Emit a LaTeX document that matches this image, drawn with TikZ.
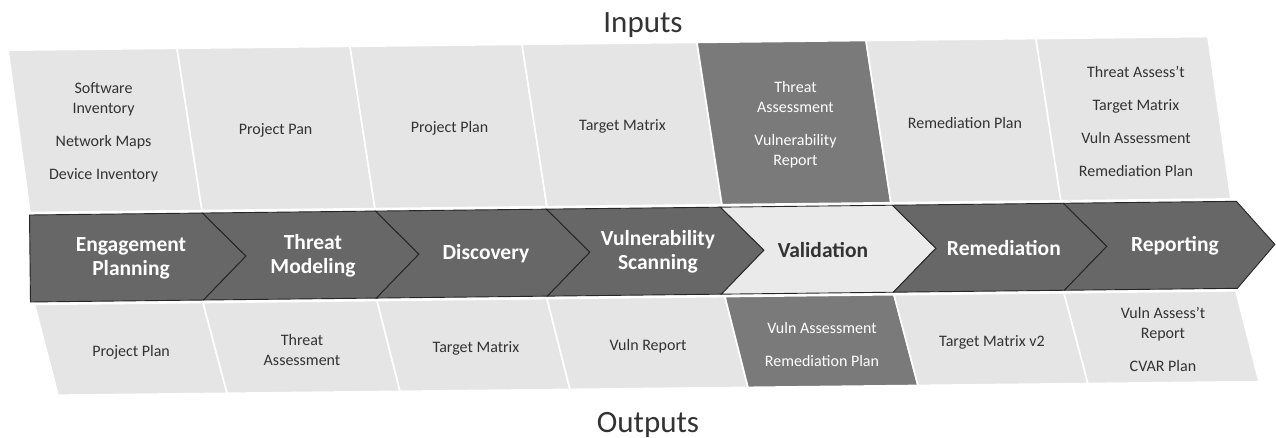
\documentclass[tikz,border=0pt]{standalone}
\usepackage{fontspec}
\setmainfont{Carlito}
\definecolor{cellfill}{HTML}{E5E5E5}
\definecolor{darkfill}{HTML}{7A7A7A}
\definecolor{chevfill}{HTML}{676767}
\definecolor{chevlight}{HTML}{EAEAEA}
\definecolor{inktext}{HTML}{333333}
\definecolor{chevline}{HTML}{262626}
\tikzset{
  cellbox/.style={fill=cellfill, draw=white, line width=1.6pt, line join=miter},
  darkbox/.style={cellbox, fill=darkfill},
  chevbox/.style={fill=chevfill, draw=chevline, line width=0.9pt, line join=miter},
  chevlightbox/.style={chevbox, fill=chevlight},
  celltxt/.style={align=center, inner sep=0pt, text=inktext, font=\fontsize{16}{20}\selectfont},
  darktxt/.style={celltxt, text=white},
  chevtxt/.style={align=center, inner sep=0pt, text=white, font=\bfseries\fontsize{21.5}{24}\selectfont},
  chevdarktxt/.style={chevtxt, text=inktext},
  titletxt/.style={inner sep=0pt, text=inktext, anchor=base, font=\fontsize{31}{36}\selectfont},
}
\begin{document}
\begin{tikzpicture}[x=1pt,y=-1pt]
\useasboundingbox (0,0) rectangle (1276,438);
\fill[white] (0,0) rectangle (1276,438);

\begin{scope}[rotate around={0.65:(30,259)}]
% ---- input cells (top band)
\path[cellbox] (10.4,50) -- (179.4,50) -- (202.5,212.5) -- (30.5,212.5) -- cycle;
\path[cellbox] (179.4,50) -- (352.4,50) -- (375.5,212.5) -- (202.5,212.5) -- cycle;
\path[cellbox] (352.4,50) -- (524.4,50) -- (547.5,212.5) -- (375.5,212.5) -- cycle;
\path[cellbox] (524.4,50) -- (699.4,50) -- (722.5,212.5) -- (547.5,212.5) -- cycle;
\path[darkbox] (699.4,50) -- (868.4,50) -- (891.5,212.5) -- (722.5,212.5) -- cycle;
\path[cellbox] (868.4,50) -- (1038.4,50) -- (1061.5,212.5) -- (891.5,212.5) -- cycle;
\path[cellbox] (1038.4,50) -- (1210.4,50) -- (1231.5,212.5) -- (1061.5,212.5) -- cycle;

% ---- output cells (bottom band)
\path[cellbox] (34,304.5) -- (202.5,304.5) -- (225.5,395.5) -- (56.5,395.5) -- cycle;
\path[cellbox] (202.5,304.5) -- (376.5,304.5) -- (398.5,395.5) -- (225.5,395.5) -- cycle;
\path[cellbox] (376.5,304.5) -- (546.5,304.5) -- (568.5,395.5) -- (398.5,395.5) -- cycle;
\path[cellbox] (546.5,304.5) -- (724.5,304.5) -- (746.5,395.5) -- (568.5,395.5) -- cycle;
\path[darkbox] (724.5,304.5) -- (893.5,304.5) -- (916.5,395.5) -- (746.5,395.5) -- cycle;
\path[cellbox] (893.5,304.5) -- (1063.5,304.5) -- (1086.5,395.5) -- (916.5,395.5) -- cycle;
\path[cellbox] (1063.5,304.5) -- (1235.5,304.5) -- (1257.5,395.5) -- (1086.5,395.5) -- cycle;

% ---- chevrons
\path[chevbox] (30,215) -- (203,215) -- (246,258.5) -- (203,302) -- (30,302) -- cycle;
\path[chevbox] (203,215) -- (376,215) -- (419,258.5) -- (376,302) -- (203,302) -- (246,258.5) -- cycle;
\path[chevbox] (376,215) -- (547,215) -- (590,258.5) -- (547,302) -- (376,302) -- (419,258.5) -- cycle;
\path[chevbox] (547,215) -- (721,215) -- (764,258.5) -- (721,302) -- (547,302) -- (590,258.5) -- cycle;
\path[chevlightbox] (721,215) -- (893,215) -- (936,258.5) -- (893,302) -- (721,302) -- (764,258.5) -- cycle;
\path[chevbox] (893,215) -- (1064,215) -- (1107,258.5) -- (1064,302) -- (893,302) -- (936,258.5) -- cycle;
\path[chevbox] (1064,215) -- (1237,215) -- (1275,258.5) -- (1237,302) -- (1064,302) -- (1107,258.5) -- cycle;

% ---- input texts
\node[celltxt] (in1) at (105,133.5) {Software\\Inventory\\[13pt]Network Maps\\[13pt]Device Inventory};
\node[celltxt] (in2) at (277,133.5) {Project Pan};
\node[celltxt] (in3) at (451,133.5) {Project Plan};
\node[celltxt] (in4) at (624,133.5) {Target Matrix};
\node[darktxt] (in5) at (797,133.5) {Threat\\Assessment\\[13pt]Vulnerability\\Report};
\node[celltxt] (in6) at (966.5,133.5) {Remediation Plan};
\node[celltxt] (in7) at (1137.5,133.5) {Threat Assess’t\\[13pt]Target Matrix\\[13pt]Vuln Assessment\\[13pt]Remediation Plan};

% ---- chevron labels
\node[chevtxt] (ch1) at (131,259) {Engagement\\Planning};
\node[chevtxt] (ch2) at (313,259) {Threat\\Modeling};
\node[chevtxt] (ch3) at (486,259) {Discovery};
\node[chevtxt] (ch4) at (658,259) {Vulnerability\\Scanning};
\node[chevdarktxt] (ch5) at (823,259) {Validation};
\node[chevtxt] (ch6) at (1004,259) {Remediation};
\node[chevtxt] (ch7) at (1175,259) {Reporting};

% ---- output texts
\node[celltxt] (out1) at (130,353) {Project Plan};
\node[celltxt] (out2) at (301,353) {Threat\\Assessment};
\node[celltxt] (out3) at (475,353) {Target Matrix};
\node[celltxt] (out4) at (647,353) {Vuln Report};
\node[darktxt] (out5) at (821,353) {Vuln Assessment\\[13pt]Remediation Plan};
\node[celltxt] (out6) at (991,353) {Target Matrix v2};
\node[celltxt] (out7) at (1162,352) {Vuln Assess’t\\Report\\[13pt]CVAR Plan};
\end{scope}

% ---- titles
\node[titletxt] (inputs) at (643,33) {Inputs};
\node[titletxt] (outputs) at (648,432) {Outputs};
\end{tikzpicture}
\end{document}
